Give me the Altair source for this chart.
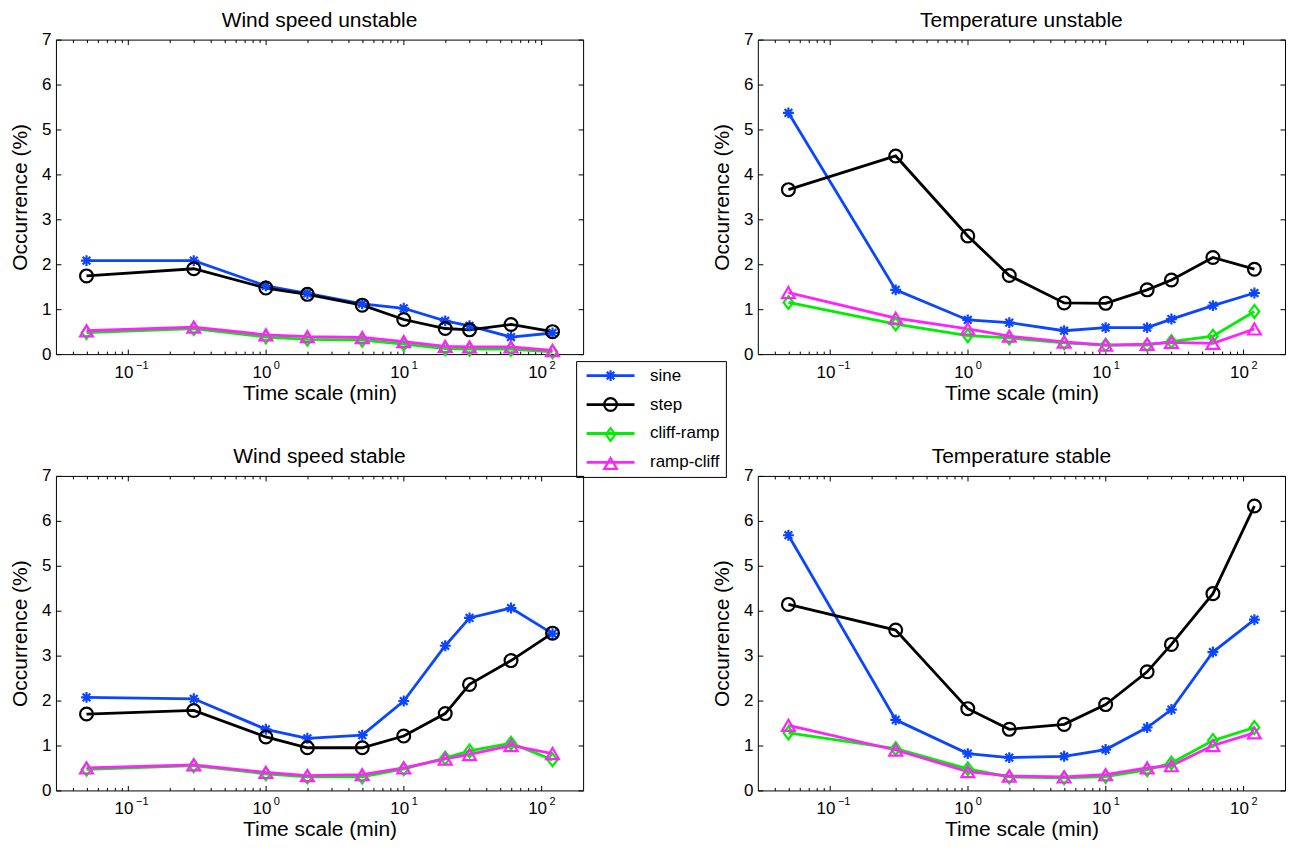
import altair as alt
import pandas as pd

FONT = "Liberation Sans"

time_scale = [0.05, 0.3, 1, 2, 5, 10, 20, 30, 60, 120]
series_names = ["sine", "step", "cliff-ramp", "ramp-cliff"]
series_colors = ["#0b46ff", "#000000", "#00ee00", "#ff22ff"]
series_shapes = [
    "M-0.85,0L0.85,0M0,-0.85L0,0.85M-0.6,-0.6L0.6,0.6M-0.6,0.6L0.6,-0.6",
    "circle",
    "M0,-1L0.75,0L0,1L-0.75,0Z",
    "triangle-up",
]

x_major = [0.1, 1, 10, 100]
x_minor = [0.04, 0.05, 0.06, 0.07, 0.08, 0.09,
           0.2, 0.3, 0.4, 0.5, 0.6, 0.7, 0.8, 0.9,
           2, 3, 4, 5, 6, 7, 8, 9,
           20, 30, 40, 50, 60, 70, 80, 90]
y_ticks = [0, 1, 2, 3, 4, 5, 6, 7]

# Wind speed unstable
ws_unstable_sine = [2.08, 2.08, 1.52, 1.35, 1.12, 1.02, 0.74, 0.63, 0.38, 0.47]
ws_unstable_step = [1.74, 1.90, 1.47, 1.33, 1.09, 0.77, 0.57, 0.54, 0.66, 0.50]
ws_unstable_cliff = [0.48, 0.57, 0.38, 0.33, 0.31, 0.22, 0.12, 0.11, 0.11, 0.05]
ws_unstable_ramp = [0.52, 0.60, 0.43, 0.39, 0.37, 0.28, 0.17, 0.16, 0.16, 0.08]

# Temperature unstable
t_unstable_sine = [5.37, 1.43, 0.76, 0.70, 0.52, 0.59, 0.59, 0.78, 1.08, 1.36]
t_unstable_step = [3.66, 4.41, 2.63, 1.75, 1.14, 1.13, 1.43, 1.65, 2.15, 1.89]
t_unstable_cliff = [1.15, 0.67, 0.41, 0.36, 0.25, 0.20, 0.20, 0.28, 0.40, 0.95]
t_unstable_ramp = [1.37, 0.80, 0.56, 0.40, 0.27, 0.20, 0.22, 0.26, 0.24, 0.56]

# Wind speed stable
ws_stable_sine = [2.07, 2.04, 1.36, 1.16, 1.23, 1.99, 3.22, 3.84, 4.06, 3.49]
ws_stable_step = [1.70, 1.78, 1.19, 0.95, 0.95, 1.21, 1.71, 2.36, 2.89, 3.50]
ws_stable_cliff = [0.47, 0.55, 0.37, 0.30, 0.30, 0.48, 0.72, 0.88, 1.05, 0.68]
ws_stable_ramp = [0.50, 0.57, 0.40, 0.33, 0.35, 0.50, 0.70, 0.80, 1.00, 0.82]

# Temperature stable
t_stable_sine = [5.68, 1.57, 0.82, 0.73, 0.76, 0.91, 1.40, 1.80, 3.08, 3.80]
t_stable_step = [4.14, 3.57, 1.82, 1.36, 1.47, 1.91, 2.64, 3.25, 4.38, 6.33]
t_stable_cliff = [1.28, 0.93, 0.48, 0.30, 0.28, 0.31, 0.46, 0.61, 1.11, 1.40]
t_stable_ramp = [1.45, 0.90, 0.42, 0.32, 0.30, 0.35, 0.50, 0.55, 1.00, 1.28]

W, H = 528, 315
LEG_X, LEG_Y = 521, 322

xscale = alt.Scale(type="log", domain=[0.03, 200], nice=False)
yscale = alt.Scale(domain=[0, 7], nice=False, zero=False)


def build_df(values):
    rows = []
    for name, vals in zip(series_names, values):
        for t, v in zip(time_scale, vals):
            rows.append({"t": t, "value": v, "series": name, "series_l": name})
    return pd.DataFrame(rows)


def tick_axis(orient, values, size, offset):
    return alt.Axis(orient=orient, values=values, ticks=True, tickSize=size, tickWidth=1,
                    tickColor="black", labels=False, domain=False, grid=False,
                    title=None, offset=offset, minExtent=0, maxExtent=0)


def make_panel(title, values):
    df = build_df(values)
    x_main = alt.Axis(orient="bottom", values=x_major, labelExpr="'10'", labelFontSize=17,
                      labelFont=FONT, labelColor="black", labelOffset=-4.5, labelPadding=10,
                      ticks=False, tickSize=0, domain=False, grid=False,
                      title="Time scale (min)", titleFontSize=21, titleFont=FONT,
                      titleFontWeight="normal", titleColor="black", titlePadding=2)
    y_main = alt.Axis(orient="left", values=y_ticks, labelFontSize=17, labelFont=FONT,
                      labelColor="black", labelPadding=5, ticks=False, tickSize=0,
                      domain=False, grid=False, title="Occurrence (%)", titleFontSize=21,
                      titleFont=FONT, titleFontWeight="normal", titleColor="black",
                      titlePadding=11)
    line_legend = alt.Legend(orient="none", legendX=LEG_X, legendY=LEG_Y, title=None,
                             symbolType="M-4,0H4", symbolSize=144, symbolStrokeWidth=2.8,
                             symbolOffset=20, labelOffset=31, labelFontSize=17,
                             labelFont=FONT, labelColor="black", rowPadding=11,
                             padding=6, strokeColor="black")
    shape_legend = alt.Legend(orient="none", legendX=LEG_X, legendY=LEG_Y, title=None,
                              symbolSize=160, symbolStrokeWidth=2.2, symbolOffset=20,
                              labelOffset=31, labelFontSize=17, labelFont=FONT,
                              labelExpr="''", rowPadding=7, padding=6)
    line = alt.Chart(df).mark_line(strokeWidth=2.8).encode(
        x=alt.X("t:Q", scale=xscale, axis=x_main),
        y=alt.Y("value:Q", scale=yscale, axis=y_main),
        stroke=alt.Stroke("series_l:N", sort=series_names,
                          scale=alt.Scale(range=series_colors), legend=line_legend),
    )
    pts = alt.Chart(df).mark_point(filled=False, size=165, strokeWidth=2.2, opacity=1).encode(
        x=alt.X("t:Q", scale=xscale, axis=None),
        y=alt.Y("value:Q", scale=yscale, axis=None),
        color=alt.Color("series:N", scale=alt.Scale(domain=series_names, range=series_colors),
                        legend=shape_legend),
        shape=alt.Shape("series:N", scale=alt.Scale(domain=series_names, range=series_shapes),
                        legend=shape_legend),
    )

    def ghost(xa, ya):
        return alt.Chart(df).mark_point(opacity=0).encode(
            x=alt.X("t:Q", scale=xscale, axis=xa),
            y=alt.Y("value:Q", scale=yscale, axis=ya),
        )

    expo = alt.Axis(orient="bottom", values=x_major,
                    labelExpr="datum.value < 0.5 ? '\u22121' : datum.value < 5 ? '0' : datum.value < 50 ? '1' : '2'",
                    labelFontSize=11, labelFont=FONT, labelColor="black", labelAlign="left",
                    labelOffset=7.5, labelPadding=5.5, ticks=False, tickSize=0, domain=False,
                    grid=False, title=None, minExtent=0, maxExtent=0)
    layers = [
        line,
        pts,
        ghost(tick_axis("top", x_major, 5, -H), tick_axis("right", y_ticks, 5, -W)),
        ghost(tick_axis("bottom", x_major, 5, -H), tick_axis("left", y_ticks, 5, -W)),
        ghost(tick_axis("top", x_minor, 3, -H), None),
        ghost(tick_axis("bottom", x_minor, 3, -H), None),
        ghost(expo, None),
    ]
    return alt.layer(*layers).resolve_scale(x="independent", y="independent").properties(
        width=W, height=H,
        title=alt.TitleParams(title, fontSize=21, fontWeight="normal", font=FONT, color="black",
                              offset=-17, baseline="alphabetic", anchor="middle", frame="group"),
    )


p1 = make_panel("Wind speed unstable",
                [ws_unstable_sine, ws_unstable_step, ws_unstable_cliff, ws_unstable_ramp])
p2 = make_panel("Temperature unstable",
                [t_unstable_sine, t_unstable_step, t_unstable_cliff, t_unstable_ramp])
p3 = make_panel("Wind speed stable",
                [ws_stable_sine, ws_stable_step, ws_stable_cliff, ws_stable_ramp])
p4 = make_panel("Temperature stable",
                [t_stable_sine, t_stable_step, t_stable_cliff, t_stable_ramp])

chart = alt.concat(p1, p2, p3, p4, columns=2, spacing={"row": 41, "column": 127}).properties(
    padding={"left": 1, "top": 0, "right": 0, "bottom": 0},
).configure(font=FONT).configure_view(stroke="black", strokeWidth=1)

chart.save("out.html", embed_options={"renderer": "svg", "actions": False})
